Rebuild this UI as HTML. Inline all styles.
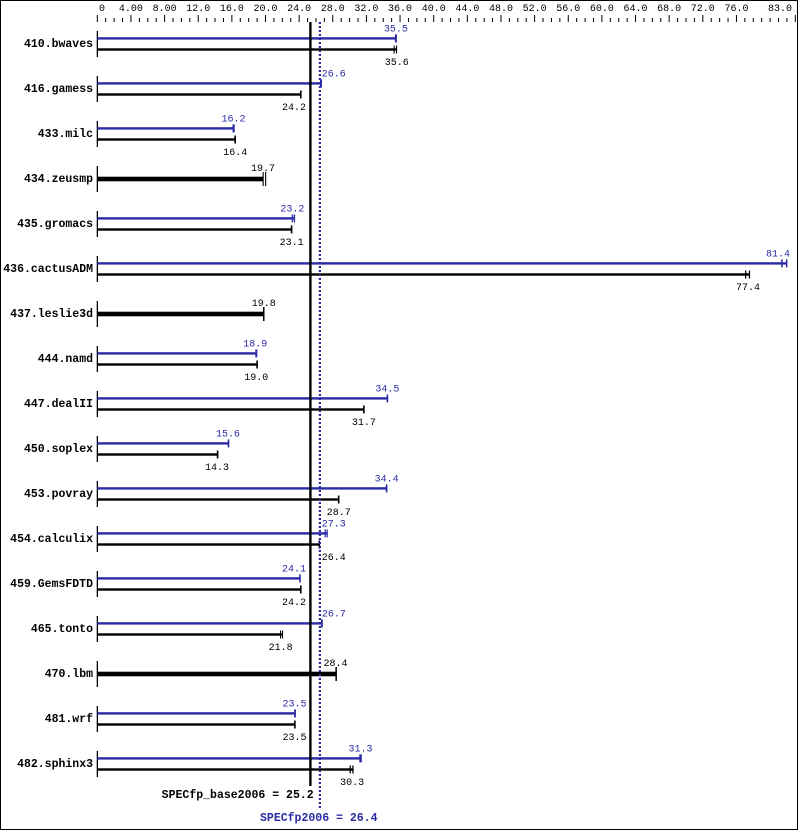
<!DOCTYPE html>
<html><head><meta charset="utf-8"><style>
html,body{margin:0;padding:0;background:#fff;}
svg{display:block;}
.n{font-family:"Liberation Mono",monospace;font-size:10px;}
.b{font-family:"Liberation Mono",monospace;font-size:11.5px;font-weight:bold;}
</style></head><body>
<svg width="799" height="831" viewBox="0 0 799 831" xmlns="http://www.w3.org/2000/svg">
<rect x="0.5" y="0.5" width="797" height="829" fill="#fff" stroke="#000" stroke-width="1"/>
<!-- top axis ticks -->
<path stroke="#000" stroke-width="1" fill="none" d="M97.3 15V22M130.94 15V22M164.58 15V22M198.22 15V22M231.86 15V22M265.5 15V22M299.14 15V22M332.78 15V22M366.42 15V22M400.06 15V22M433.7 15V22M467.34 15V22M500.98 15V22M534.62 15V22M568.26 15V22M601.9 15V22M635.54 15V22M669.18 15V22M702.82 15V22M736.46 15V22M795.33 15V22"/>
<path stroke="#000" stroke-width="1" fill="none" d="M105.71 18V22M114.12 18V22M122.53 18V22M139.35 18V22M147.76 18V22M156.17 18V22M172.99 18V22M181.4 18V22M189.81 18V22M206.63 18V22M215.04 18V22M223.45 18V22M240.27 18V22M248.68 18V22M257.09 18V22M273.91 18V22M282.32 18V22M290.73 18V22M307.55 18V22M315.96 18V22M324.37 18V22M341.19 18V22M349.6 18V22M358.01 18V22M374.83 18V22M383.24 18V22M391.65 18V22M408.47 18V22M416.88 18V22M425.29 18V22M442.11 18V22M450.52 18V22M458.93 18V22M475.75 18V22M484.16 18V22M492.57 18V22M509.39 18V22M517.8 18V22M526.21 18V22M543.03 18V22M551.44 18V22M559.85 18V22M576.67 18V22M585.08 18V22M593.49 18V22M610.31 18V22M618.72 18V22M627.13 18V22M643.95 18V22M652.36 18V22M660.77 18V22M677.59 18V22M686 18V22M694.41 18V22M711.23 18V22M719.64 18V22M728.05 18V22M744.87 18V22M753.28 18V22M761.69 18V22M770.1 18V22M778.51 18V22M786.92 18V22"/>
<g class="n" fill="#000" text-anchor="middle">
<text x="102" y="11">0</text>
<text x="130.94" y="11">4.00</text>
<text x="164.58" y="11">8.00</text>
<text x="198.22" y="11">12.0</text>
<text x="231.86" y="11">16.0</text>
<text x="265.5" y="11">20.0</text>
<text x="299.14" y="11">24.0</text>
<text x="332.78" y="11">28.0</text>
<text x="366.42" y="11">32.0</text>
<text x="400.06" y="11">36.0</text>
<text x="433.7" y="11">40.0</text>
<text x="467.34" y="11">44.0</text>
<text x="500.98" y="11">48.0</text>
<text x="534.62" y="11">52.0</text>
<text x="568.26" y="11">56.0</text>
<text x="601.9" y="11">60.0</text>
<text x="635.54" y="11">64.0</text>
<text x="669.18" y="11">68.0</text>
<text x="702.82" y="11">72.0</text>
<text x="736.46" y="11">76.0</text>
<text x="792" y="11" text-anchor="end">83.0</text>
</g>

<!-- Row 0: 410.bwaves -->
<g transform="translate(0,0)">
<text class="b" x="93" y="47" text-anchor="end" fill="#000">410.bwaves</text>
<rect x="96.7" y="31" width="1.3" height="26" fill="#000"/>
<rect x="97.3" y="37.2" width="298.56" height="2.4" fill="#2a2aa5"/>
<rect x="394.9" y="34.4" width="2" height="8" fill="#2a2aa5"/>
<text class="n" x="395.9" y="31.5" text-anchor="middle" fill="#2a2aa5">35.5</text>
<rect x="97.3" y="48.3" width="299.4" height="2.4" fill="#000"/>
<rect x="393.6" y="45.5" width="1.1" height="8" fill="#000"/>
<rect x="396" y="45.5" width="1.1" height="8" fill="#000"/>
<text class="n" x="396.7" y="65" text-anchor="middle" fill="#000">35.6</text>
</g>

<!-- Row 1: 416.gamess -->
<g transform="translate(0,45)">
<text class="b" x="93" y="47" text-anchor="end" fill="#000">416.gamess</text>
<rect x="96.7" y="31" width="1.3" height="26" fill="#000"/>
<rect x="97.3" y="37.2" width="223.71" height="2.4" fill="#2a2aa5"/>
<rect x="320" y="34.4" width="2" height="8" fill="#2a2aa5"/>
<text class="n" x="321.7" y="31.5" text-anchor="start" fill="#2a2aa5">26.6</text>
<rect x="97.3" y="48.3" width="203.52" height="2.4" fill="#000"/>
<rect x="300" y="45.5" width="1.6" height="8" fill="#000"/>
<text class="n" x="306" y="65" text-anchor="end" fill="#000">24.2</text>
</g>

<!-- Row 2: 433.milc -->
<g transform="translate(0,90)">
<text class="b" x="93" y="47" text-anchor="end" fill="#000">433.milc</text>
<rect x="96.7" y="31" width="1.3" height="26" fill="#000"/>
<rect x="97.3" y="37.2" width="136.24" height="2.4" fill="#2a2aa5"/>
<rect x="232.5" y="34.4" width="2.2" height="8" fill="#2a2aa5"/>
<text class="n" x="233.5" y="31.5" text-anchor="middle" fill="#2a2aa5">16.2</text>
<rect x="97.3" y="48.3" width="137.92" height="2.4" fill="#000"/>
<rect x="234.4" y="45.5" width="1.6" height="8" fill="#000"/>
<text class="n" x="235.2" y="65" text-anchor="middle" fill="#000">16.4</text>
</g>

<!-- Row 3: 434.zeusmp -->
<g transform="translate(0,135)">
<text class="b" x="93" y="47" text-anchor="end" fill="#000">434.zeusmp</text>
<rect x="96.7" y="31" width="1.3" height="26" fill="#000"/>
<rect x="97.3" y="41.7" width="165.68" height="4.6" fill="#000"/>
<rect x="262.6" y="37" width="1.1" height="14" fill="#000"/>
<rect x="265.1" y="37" width="1.1" height="14" fill="#000"/>
<text class="n" x="263" y="36" text-anchor="middle" fill="#000">19.7</text>
</g>

<!-- Row 4: 435.gromacs -->
<g transform="translate(0,180)">
<text class="b" x="93" y="47" text-anchor="end" fill="#000">435.gromacs</text>
<rect x="96.7" y="31" width="1.3" height="26" fill="#000"/>
<rect x="97.3" y="37.2" width="197.2" height="2.4" fill="#2a2aa5"/>
<rect x="291.7" y="34.4" width="1.2" height="8" fill="#2a2aa5"/>
<rect x="293.7" y="34.4" width="1.4" height="8" fill="#2a2aa5"/>
<text class="n" x="292.4" y="31.5" text-anchor="middle" fill="#2a2aa5">23.2</text>
<rect x="97.3" y="48.3" width="194.27" height="2.4" fill="#000"/>
<rect x="290.8" y="45.5" width="1.6" height="8" fill="#000"/>
<text class="n" x="291.6" y="65" text-anchor="middle" fill="#000">23.1</text>
</g>

<!-- Row 5: 436.cactusADM -->
<g transform="translate(0,225)">
<text class="b" x="93" y="47" text-anchor="end" fill="#000">436.cactusADM</text>
<rect x="96.7" y="31" width="1.3" height="26" fill="#000"/>
<rect x="97.3" y="37.2" width="689.7" height="2.4" fill="#2a2aa5"/>
<rect x="781.2" y="34.4" width="1.5" height="8" fill="#2a2aa5"/>
<rect x="785.9" y="34.4" width="1.5" height="8" fill="#2a2aa5"/>
<text class="n" x="790" y="31.5" text-anchor="end" fill="#2a2aa5">81.4</text>
<rect x="97.3" y="48.3" width="652.2" height="2.4" fill="#000"/>
<rect x="745" y="45.5" width="1.3" height="8" fill="#000"/>
<rect x="748.8" y="45.5" width="1.3" height="8" fill="#000"/>
<text class="n" x="748" y="65" text-anchor="middle" fill="#000">77.4</text>
</g>

<!-- Row 6: 437.leslie3d -->
<g transform="translate(0,270)">
<text class="b" x="93" y="47" text-anchor="end" fill="#000">437.leslie3d</text>
<rect x="96.7" y="31" width="1.3" height="26" fill="#000"/>
<rect x="97.3" y="41.7" width="166.52" height="4.6" fill="#000"/>
<rect x="263" y="37" width="1.5" height="14" fill="#000"/>
<text class="n" x="263.8" y="36" text-anchor="middle" fill="#000">19.8</text>
</g>

<!-- Row 7: 444.namd -->
<g transform="translate(0,315)">
<text class="b" x="93" y="47" text-anchor="end" fill="#000">444.namd</text>
<rect x="96.7" y="31" width="1.3" height="26" fill="#000"/>
<rect x="97.3" y="37.2" width="158.95" height="2.4" fill="#2a2aa5"/>
<rect x="255.3" y="34.4" width="2" height="8" fill="#2a2aa5"/>
<text class="n" x="255.2" y="31.5" text-anchor="middle" fill="#2a2aa5">18.9</text>
<rect x="97.3" y="48.3" width="159.79" height="2.4" fill="#000"/>
<rect x="256.3" y="45.5" width="1.6" height="8" fill="#000"/>
<text class="n" x="256.2" y="65" text-anchor="middle" fill="#000">19.0</text>
</g>

<!-- Row 8: 447.dealII -->
<g transform="translate(0,360)">
<text class="b" x="93" y="47" text-anchor="end" fill="#000">447.dealII</text>
<rect x="96.7" y="31" width="1.3" height="26" fill="#000"/>
<rect x="97.3" y="37.2" width="290.15" height="2.4" fill="#2a2aa5"/>
<rect x="386.6" y="34.4" width="1.6" height="8" fill="#2a2aa5"/>
<text class="n" x="387.4" y="31.5" text-anchor="middle" fill="#2a2aa5">34.5</text>
<rect x="97.3" y="48.3" width="266.6" height="2.4" fill="#000"/>
<rect x="363.1" y="45.5" width="1.6" height="8" fill="#000"/>
<text class="n" x="363.9" y="65" text-anchor="middle" fill="#000">31.7</text>
</g>

<!-- Row 9: 450.soplex -->
<g transform="translate(0,405)">
<text class="b" x="93" y="47" text-anchor="end" fill="#000">450.soplex</text>
<rect x="96.7" y="31" width="1.3" height="26" fill="#000"/>
<rect x="97.3" y="37.2" width="131.2" height="2.4" fill="#2a2aa5"/>
<rect x="227.7" y="34.4" width="1.6" height="8" fill="#2a2aa5"/>
<text class="n" x="228" y="31.5" text-anchor="middle" fill="#2a2aa5">15.6</text>
<rect x="97.3" y="48.3" width="120.26" height="2.4" fill="#000"/>
<rect x="216.8" y="45.5" width="1.6" height="8" fill="#000"/>
<text class="n" x="217" y="65" text-anchor="middle" fill="#000">14.3</text>
</g>

<!-- Row 10: 453.povray -->
<g transform="translate(0,450)">
<text class="b" x="93" y="47" text-anchor="end" fill="#000">453.povray</text>
<rect x="96.7" y="31" width="1.3" height="26" fill="#000"/>
<rect x="97.3" y="37.2" width="289.3" height="2.4" fill="#2a2aa5"/>
<rect x="385.8" y="34.4" width="1.6" height="8" fill="#2a2aa5"/>
<text class="n" x="386.6" y="31.5" text-anchor="middle" fill="#2a2aa5">34.4</text>
<rect x="97.3" y="48.3" width="241.37" height="2.4" fill="#000"/>
<rect x="337.9" y="45.5" width="1.6" height="8" fill="#000"/>
<text class="n" x="338.7" y="65" text-anchor="middle" fill="#000">28.7</text>
</g>

<!-- Row 11: 454.calculix -->
<g transform="translate(0,495)">
<text class="b" x="93" y="47" text-anchor="end" fill="#000">454.calculix</text>
<rect x="96.7" y="31" width="1.3" height="26" fill="#000"/>
<rect x="97.3" y="37.2" width="229.7" height="2.4" fill="#2a2aa5"/>
<rect x="324.6" y="34.4" width="1.2" height="8" fill="#2a2aa5"/>
<rect x="326.6" y="34.4" width="1.2" height="8" fill="#2a2aa5"/>
<text class="n" x="321.7" y="31.5" text-anchor="start" fill="#2a2aa5">27.3</text>
<rect x="97.3" y="48.3" width="222.02" height="2.4" fill="#000"/>
<rect x="318.5" y="45.5" width="1.6" height="8" fill="#000"/>
<text class="n" x="321.7" y="65" text-anchor="start" fill="#000">26.4</text>
</g>

<!-- Row 12: 459.GemsFDTD -->
<g transform="translate(0,540)">
<text class="b" x="93" y="47" text-anchor="end" fill="#000">459.GemsFDTD</text>
<rect x="96.7" y="31" width="1.3" height="26" fill="#000"/>
<rect x="97.3" y="37.2" width="202.68" height="2.4" fill="#2a2aa5"/>
<rect x="299.2" y="34.4" width="1.6" height="8" fill="#2a2aa5"/>
<text class="n" x="306" y="31.5" text-anchor="end" fill="#2a2aa5">24.1</text>
<rect x="97.3" y="48.3" width="203.52" height="2.4" fill="#000"/>
<rect x="300" y="45.5" width="1.6" height="8" fill="#000"/>
<text class="n" x="306" y="65" text-anchor="end" fill="#000">24.2</text>
</g>

<!-- Row 13: 465.tonto -->
<g transform="translate(0,585)">
<text class="b" x="93" y="47" text-anchor="end" fill="#000">465.tonto</text>
<rect x="96.7" y="31" width="1.3" height="26" fill="#000"/>
<rect x="97.3" y="37.2" width="224.55" height="2.4" fill="#2a2aa5"/>
<rect x="321" y="34.4" width="1.8" height="8" fill="#2a2aa5"/>
<text class="n" x="321.9" y="31.5" text-anchor="start" fill="#2a2aa5">26.7</text>
<rect x="97.3" y="48.3" width="185.2" height="2.4" fill="#000"/>
<rect x="280" y="45.5" width="1.1" height="8" fill="#000"/>
<rect x="282" y="45.5" width="1.1" height="8" fill="#000"/>
<text class="n" x="280.6" y="65" text-anchor="middle" fill="#000">21.8</text>
</g>

<!-- Row 14: 470.lbm -->
<g transform="translate(0,630)">
<text class="b" x="93" y="47" text-anchor="end" fill="#000">470.lbm</text>
<rect x="96.7" y="31" width="1.3" height="26" fill="#000"/>
<rect x="97.3" y="41.7" width="238.84" height="4.6" fill="#000"/>
<rect x="335.4" y="37" width="1.5" height="14" fill="#000"/>
<text class="n" x="335.5" y="36" text-anchor="middle" fill="#000">28.4</text>
</g>

<!-- Row 15: 481.wrf -->
<g transform="translate(0,675)">
<text class="b" x="93" y="47" text-anchor="end" fill="#000">481.wrf</text>
<rect x="96.7" y="31" width="1.3" height="26" fill="#000"/>
<rect x="97.3" y="37.2" width="197.64" height="2.4" fill="#2a2aa5"/>
<rect x="294.1" y="34.4" width="1.8" height="8" fill="#2a2aa5"/>
<text class="n" x="294.5" y="31.5" text-anchor="middle" fill="#2a2aa5">23.5</text>
<rect x="97.3" y="48.3" width="197.64" height="2.4" fill="#000"/>
<rect x="294.1" y="45.5" width="1.6" height="8" fill="#000"/>
<text class="n" x="294.5" y="65" text-anchor="middle" fill="#000">23.5</text>
</g>

<!-- Row 16: 482.sphinx3 -->
<g transform="translate(0,720)">
<text class="b" x="93" y="47" text-anchor="end" fill="#000">482.sphinx3</text>
<rect x="96.7" y="31" width="1.3" height="26" fill="#000"/>
<rect x="97.3" y="37.2" width="263.23" height="2.4" fill="#2a2aa5"/>
<rect x="359.3" y="34.4" width="2.5" height="8" fill="#2a2aa5"/>
<text class="n" x="360.5" y="31.5" text-anchor="middle" fill="#2a2aa5">31.3</text>
<rect x="97.3" y="48.3" width="255.7" height="2.4" fill="#000"/>
<rect x="349.6" y="45.5" width="1.3" height="8" fill="#000"/>
<rect x="352.3" y="45.5" width="1.3" height="8" fill="#000"/>
<text class="n" x="352.1" y="65" text-anchor="middle" fill="#000">30.3</text>
</g>

<!-- reference lines -->
<rect x="309.2" y="22" width="2.4" height="764" fill="#000"/>
<line x1="319.9" y1="22" x2="319.9" y2="808" stroke="#2a2aa5" stroke-width="2.2" stroke-dasharray="2 2"/>

<text class="b" x="161.7" y="798" fill="#000" textLength="152" lengthAdjust="spacingAndGlyphs">SPECfp_base2006 = 25.2</text>
<text class="b" x="260" y="821" fill="#2a2aa5" textLength="117.5" lengthAdjust="spacingAndGlyphs">SPECfp2006 = 26.4</text>
</svg>
</body></html>
